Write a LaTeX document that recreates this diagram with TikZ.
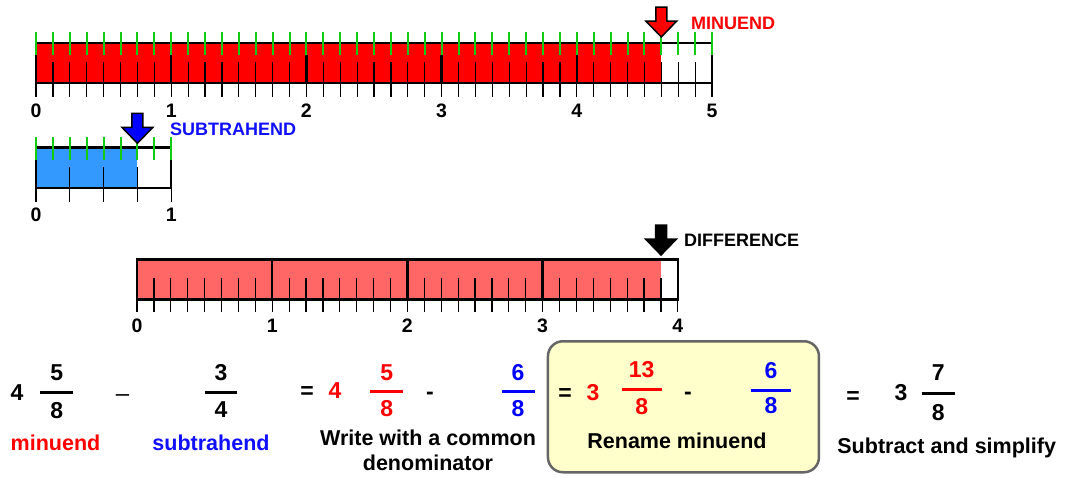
\documentclass[tikz,border=0pt]{standalone}
\usepackage{fontspec}
\setmainfont{Liberation Sans}
\definecolor{mred}{HTML}{FF0000}
\definecolor{sblue}{HTML}{1010FF}
\definecolor{lblue}{HTML}{3399FF}
\definecolor{pinkfill}{HTML}{FF6666}
\definecolor{tgreen}{HTML}{11CC11}
\definecolor{boxy}{HTML}{FFFFCC}
\definecolor{boxgray}{HTML}{666666}
\newcommand{\blockarr}[4]{% name, tip x, tip y, colour
  \filldraw[fill=#4, draw=black, line width=1.5pt] (#2,#3) coordinate (#1)
    -- ++(-15.5,-16) -- ++(10,0) -- ++(0,-14) -- ++(11,0) -- ++(0,14) -- ++(10,0) -- cycle;}
\newcommand{\fr}[9]{% name, x, numbase, bar y, denbase, halfwidth, colour, num, den
  \node[dig, text=#7, anchor=base] (#1n) at (#2,#3) {#8};
  \node[dig, text=#7, anchor=base] (#1d) at (#2,#5) {#9};
  \draw[fracbar, draw=#7] ({#2-#6},#4) -- ({#2+#6},#4);}
\begin{document}
\begin{tikzpicture}[x=1pt,y=-1pt,
  axnum/.style={font=\fontsize{19.5}{22}\selectfont\bfseries, inner sep=0pt, anchor=base},
  caplab/.style={font=\fontsize{18}{22}\selectfont\bfseries, inner sep=0pt, anchor=base west},
  dig/.style={font=\fontsize{23}{26}\selectfont\bfseries, inner sep=0pt},
  lab/.style={font=\fontsize{21.5}{25}\selectfont\bfseries, inner sep=0pt, anchor=base},
  fracbar/.style={line width=3pt},
  edge/.style={line width=2.5pt},
  tickline/.style={line width=1.2pt},
  gtick/.style={line width=2pt, draw=tgreen}]
\useasboundingbox (0,0) rectangle (1065,477);
\fill[white] (0,0) rectangle (1065,477);

% ---------- minuend bar ----------
\fill[mred] (36,43) rectangle (661.3,83);
\foreach \i in {1,...,39} \draw[tickline] ({36+\i*16.9},62) -- ({36+\i*16.9},97);
\foreach \i in {0,5} \draw[tickline] ({36+\i*135.2},83) -- ({36+\i*135.2},97);
\foreach \i in {1,...,4} \draw[edge] ({36+\i*135.2},55) -- ({36+\i*135.2},83);
\draw[edge] (36,43) rectangle (712,83);
\foreach \i in {0,...,40} \draw[gtick] ({36+\i*16.9},32) -- ({36+\i*16.9},55);
\foreach \i in {0,...,5} \node[axnum] (ta\i) at ({36+\i*135.2},117.3) {\i};
\blockarr{ma}{661.3}{37}{mred}
\node[caplab, text=mred] (minlab) at (691,29.3) {MINUEND};

% ---------- subtrahend bar ----------
\fill[lblue] (36,147.7) rectangle (137.4,188);
\foreach \i in {1,2,3} \draw[tickline] ({36+\i*33.8},167) -- ({36+\i*33.8},202);
\foreach \i in {0,1} \draw[tickline] ({36+\i*135.2},188) -- ({36+\i*135.2},202);
\draw[edge] (36,147.7) rectangle (171.2,188);
\foreach \i in {0,...,8} \draw[gtick] ({36+\i*16.9},136.7) -- ({36+\i*16.9},160);
\foreach \i in {0,1} \node[axnum] (tb\i) at ({36+\i*135.2},221) {\i};
\blockarr{sa}{137.4}{143.3}{blue}
\node[caplab, text=sblue] (sublab) at (170,135) {SUBTRAHEND};

% ---------- difference bar ----------
\fill[pinkfill] (137,259.3) rectangle (660.9,299.3);
\foreach \i in {1,...,31} \draw[tickline] ({137+\i*16.9},278) -- ({137+\i*16.9},312);
\foreach \i in {0,4} \draw[tickline] ({137+\i*135.2},299) -- ({137+\i*135.2},312);
\foreach \i in {1,2,3} \draw[edge] ({137+\i*135.2},259.3) -- ({137+\i*135.2},299.3);
\draw[edge] (137,259.3) rectangle (677.8,299.3);
\foreach \i in {0,...,4} \node[axnum] (tc\i) at ({137+\i*135.2},332.7) {\i};
\blockarr{da}{661}{255}{black}
\node[caplab] (diflab) at (684,246) {DIFFERENCE};

% ---------- equation ----------
\node[draw=boxgray, fill=boxy, line width=2.5pt, rounded corners=15pt,
      minimum width=271pt, minimum height=131pt, anchor=north west, inner sep=0pt] (box) at (546.7,340) {};

\node[dig, anchor=base] (w1) at (17,400) {4};
\fr{f1}{56.7}{380}{392.5}{418}{16.5}{black}{5}{8}
\node[font=\fontsize{24}{26}\selectfont, inner sep=0pt, anchor=base] (minus) at (122.5,401.5) {–};
\fr{f2}{221}{380}{392}{417.5}{16}{black}{3}{4}
\node[lab, text=mred] (l1) at (55.5,450) {minuend};
\node[lab, text=sblue] (l2) at (211,450) {subtrahend};

\node[dig, anchor=base] (eq1) at (307,398) {=};
\node[dig, anchor=base, text=mred] (w2) at (335,398) {4};
\fr{f3}{386.7}{380}{391}{416}{16.5}{mred}{5}{8}
\node[dig, anchor=base] (h1) at (430,399) {-};
\fr{f4}{518}{380}{391}{416}{16.5}{blue}{6}{8}
\node[lab] (l3) at (428,445) {Write with a common};
\node[lab] (l4) at (428,470) {denominator};

\node[dig, anchor=base] (eq2) at (565,400) {=};
\node[dig, anchor=base, text=mred] (w3) at (593,400) {3};
\fr{f5}{641.7}{377}{389}{414}{20}{mred}{13}{8}
\node[dig, anchor=base] (h2) at (688,399) {-};
\fr{f6}{771}{378}{390.5}{413.5}{20.3}{blue}{6}{8}
\node[lab] (l5) at (677,448.3) {Rename minuend};

\node[dig, anchor=base] (eq3) at (853,403) {=};
\node[dig, anchor=base] (w4) at (901,400) {3};
\fr{f7}{938.3}{380}{393}{420}{16.7}{black}{7}{8}
\node[lab] (l6) at (946.7,453.3) {Subtract and simplify};
\end{tikzpicture}
\end{document}
